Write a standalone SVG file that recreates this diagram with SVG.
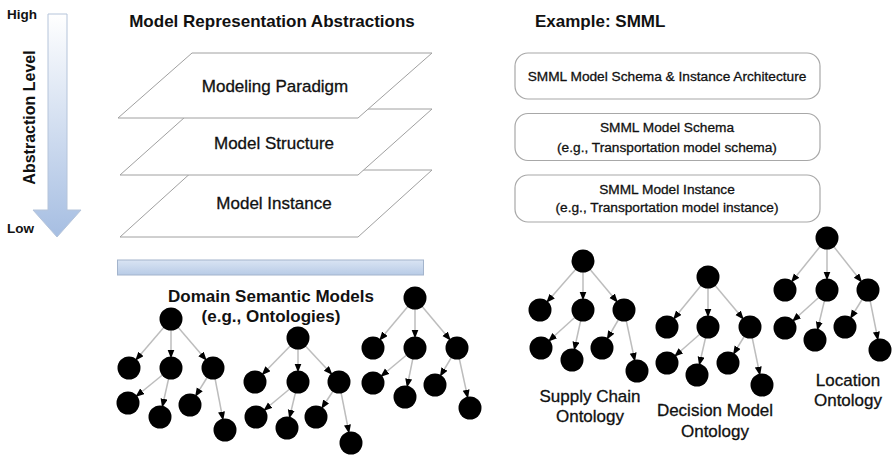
<svg xmlns="http://www.w3.org/2000/svg" width="892" height="459" viewBox="0 0 892 459">
<defs>
<linearGradient id="gArrow" x1="0" y1="0" x2="0" y2="1">
<stop offset="0" stop-color="#ffffff"/>
<stop offset="1" stop-color="#a6bee2"/>
</linearGradient>
<linearGradient id="gBar" x1="0" y1="0" x2="0" y2="1">
<stop offset="0" stop-color="#d9e4f3"/>
<stop offset="1" stop-color="#b8cbe6"/>
</linearGradient>
<marker id="ah" markerUnits="userSpaceOnUse" markerWidth="22" markerHeight="8" refX="18.5" refY="3.5" orient="auto">
<path d="M0,0 L9,3.5 L0,7 z" fill="#000"/>
</marker>
</defs>
<style>
text{font-family:"Liberation Sans",Arial,sans-serif;fill:#111}
.b{font-weight:bold}
.r{stroke:#111;stroke-width:0.3}
.t17{font-size:17px}
.t14{font-size:13.7px}
.lay{fill:#fff;stroke:#a0a0a0;stroke-width:1}
.box{fill:#fff;stroke:#a8a8a8;stroke-width:1.2}
.e{stroke:#bdbdbd;stroke-width:1.5;fill:none;marker-end:url(#ah)}
.n{fill:#000}
</style>

<g id="abstraction-arrow">
<path d="M48,14 L67,14 L67,210 L81,210 L57,237 L33,210 L48,210 z" fill="url(#gArrow)" stroke="#b5c4da" stroke-width="1"/>
<text x="7" y="19" class="b" font-size="13.5">High</text>
<text x="7" y="233" class="b" font-size="13.5">Low</text>
<text transform="translate(35,117.5) rotate(-90)" text-anchor="middle" class="b" font-size="16">Abstraction Level</text>
</g>

<text x="272" y="27" text-anchor="middle" class="b t17">Model Representation Abstractions</text>
<text x="535" y="27" class="b t17">Example: SMML</text>

<g id="layer-instance">
<path class="lay" d="M194,170 L432,170 L358,237 L120,237 z"/>
<text x="274" y="209" text-anchor="middle" class="t17 r">Model Instance</text>
</g>
<g id="layer-structure">
<path class="lay" d="M194,109 L432,109 L358,175 L120,175 z"/>
<text x="274" y="149" text-anchor="middle" class="t17 r">Model Structure</text>
</g>
<g id="layer-paradigm">
<path class="lay" d="M192,53 L432,53 L358,118 L118,118 z"/>
<text x="275" y="92" text-anchor="middle" class="t17 r">Modeling Paradigm</text>
</g>

<g id="smml-arch">
<rect class="box" x="515" y="53" width="305" height="46" rx="13"/>
<text x="667" y="81" text-anchor="middle" class="t14 r">SMML Model Schema &amp; Instance Architecture</text>
</g>
<g id="smml-schema">
<rect class="box" x="515" y="113.5" width="305" height="47" rx="13"/>
<text x="667" y="132" text-anchor="middle" class="t14 r">SMML Model Schema</text>
<text x="667" y="152" text-anchor="middle" class="t14 r">(e.g., Transportation model schema)</text>
</g>
<g id="smml-instance">
<rect class="box" x="515" y="175" width="305" height="47" rx="13"/>
<text x="667" y="194" text-anchor="middle" class="t14 r">SMML Model Instance</text>
<text x="667" y="212" text-anchor="middle" class="t14 r">(e.g., Transportation model instance)</text>
</g>

<g id="domain-bar">
<rect x="117.5" y="260" width="306" height="15" fill="url(#gBar)" stroke="#a3b4cc" stroke-width="1"/>
</g>
<g id="domain-label">
<text x="271" y="302" text-anchor="middle" class="b t17">Domain Semantic Models</text>
<text x="271" y="322" text-anchor="middle" class="b t17">(e.g., Ontologies)</text>
</g>

<g id="connectors">
<line class="e" x1="171" y1="319" x2="129" y2="368"/>
<line class="e" x1="171" y1="319" x2="171" y2="368"/>
<line class="e" x1="171" y1="319" x2="213" y2="368"/>
<line class="e" x1="171" y1="368" x2="128" y2="403"/>
<line class="e" x1="171" y1="368" x2="160" y2="417"/>
<line class="e" x1="213" y1="368" x2="190" y2="405"/>
<line class="e" x1="213" y1="368" x2="225" y2="430"/>
<line class="e" x1="298" y1="338" x2="255" y2="382"/>
<line class="e" x1="298" y1="338" x2="298" y2="382"/>
<line class="e" x1="298" y1="338" x2="339" y2="382"/>
<line class="e" x1="298" y1="382" x2="256" y2="417"/>
<line class="e" x1="298" y1="382" x2="287" y2="428"/>
<line class="e" x1="339" y1="382" x2="316" y2="417"/>
<line class="e" x1="339" y1="382" x2="351" y2="443"/>
<line class="e" x1="415" y1="298" x2="373" y2="348"/>
<line class="e" x1="415" y1="298" x2="415" y2="348"/>
<line class="e" x1="415" y1="298" x2="457" y2="348"/>
<line class="e" x1="415" y1="348" x2="373" y2="383"/>
<line class="e" x1="415" y1="348" x2="405" y2="397"/>
<line class="e" x1="457" y1="348" x2="435" y2="385"/>
<line class="e" x1="457" y1="348" x2="470" y2="408"/>
<line class="e" x1="583" y1="261" x2="540" y2="310"/>
<line class="e" x1="583" y1="261" x2="583" y2="310"/>
<line class="e" x1="583" y1="261" x2="624" y2="310"/>
<line class="e" x1="583" y1="310" x2="541" y2="348"/>
<line class="e" x1="583" y1="310" x2="572" y2="360"/>
<line class="e" x1="624" y1="310" x2="602" y2="348"/>
<line class="e" x1="624" y1="310" x2="637" y2="371"/>
<line class="e" x1="708" y1="277" x2="667" y2="327"/>
<line class="e" x1="708" y1="277" x2="708" y2="327"/>
<line class="e" x1="708" y1="277" x2="750" y2="327"/>
<line class="e" x1="708" y1="327" x2="667" y2="363"/>
<line class="e" x1="708" y1="327" x2="697" y2="375"/>
<line class="e" x1="750" y1="327" x2="728" y2="363"/>
<line class="e" x1="750" y1="327" x2="762" y2="385"/>
<line class="e" x1="827" y1="238" x2="785" y2="290"/>
<line class="e" x1="827" y1="238" x2="827" y2="290"/>
<line class="e" x1="827" y1="238" x2="868" y2="290"/>
<line class="e" x1="827" y1="290" x2="785" y2="328"/>
<line class="e" x1="827" y1="290" x2="815" y2="340"/>
<line class="e" x1="868" y1="290" x2="845" y2="327"/>
<line class="e" x1="868" y1="290" x2="880" y2="350"/>
</g>

<g id="tree1">
<g id="t1-root"><circle class="n" cx="171" cy="319" r="11.5"/></g>
<g id="t1-a"><circle class="n" cx="129" cy="368" r="11.5"/></g>
<g id="t1-b"><circle class="n" cx="171" cy="368" r="11.5"/></g>
<g id="t1-c"><circle class="n" cx="213" cy="368" r="11.5"/></g>
<g id="t1-d"><circle class="n" cx="128" cy="403" r="11.5"/></g>
<g id="t1-e"><circle class="n" cx="160" cy="417" r="11.5"/></g>
<g id="t1-f"><circle class="n" cx="190" cy="405" r="11.5"/></g>
<g id="t1-g"><circle class="n" cx="225" cy="430" r="11.5"/></g>
</g>
<g id="tree2">
<g id="t2-root"><circle class="n" cx="298" cy="338" r="11.5"/></g>
<g id="t2-a"><circle class="n" cx="255" cy="382" r="11.5"/></g>
<g id="t2-b"><circle class="n" cx="298" cy="382" r="11.5"/></g>
<g id="t2-c"><circle class="n" cx="339" cy="382" r="11.5"/></g>
<g id="t2-d"><circle class="n" cx="256" cy="417" r="11.5"/></g>
<g id="t2-e"><circle class="n" cx="287" cy="428" r="11.5"/></g>
<g id="t2-f"><circle class="n" cx="316" cy="417" r="11.5"/></g>
<g id="t2-g"><circle class="n" cx="351" cy="443" r="11.5"/></g>
</g>
<g id="tree3">
<g id="t3-root"><circle class="n" cx="415" cy="298" r="11.5"/></g>
<g id="t3-a"><circle class="n" cx="373" cy="348" r="11.5"/></g>
<g id="t3-b"><circle class="n" cx="415" cy="348" r="11.5"/></g>
<g id="t3-c"><circle class="n" cx="457" cy="348" r="11.5"/></g>
<g id="t3-d"><circle class="n" cx="373" cy="383" r="11.5"/></g>
<g id="t3-e"><circle class="n" cx="405" cy="397" r="11.5"/></g>
<g id="t3-f"><circle class="n" cx="435" cy="385" r="11.5"/></g>
<g id="t3-g"><circle class="n" cx="470" cy="408" r="11.5"/></g>
</g>
<g id="supply-chain-ontology">
<g id="t4-root"><circle class="n" cx="583" cy="261" r="11.5"/></g>
<g id="t4-a"><circle class="n" cx="540" cy="310" r="11.5"/></g>
<g id="t4-b"><circle class="n" cx="583" cy="310" r="11.5"/></g>
<g id="t4-c"><circle class="n" cx="624" cy="310" r="11.5"/></g>
<g id="t4-d"><circle class="n" cx="541" cy="348" r="11.5"/></g>
<g id="t4-e"><circle class="n" cx="572" cy="360" r="11.5"/></g>
<g id="t4-f"><circle class="n" cx="602" cy="348" r="11.5"/></g>
<g id="t4-g"><circle class="n" cx="637" cy="371" r="11.5"/></g>
<text x="590" y="402" text-anchor="middle" class="t17 r">Supply Chain</text>
<text x="590" y="422" text-anchor="middle" class="t17 r">Ontology</text>
</g>
<g id="decision-model-ontology">
<g id="t5-root"><circle class="n" cx="708" cy="277" r="11.5"/></g>
<g id="t5-a"><circle class="n" cx="667" cy="327" r="11.5"/></g>
<g id="t5-b"><circle class="n" cx="708" cy="327" r="11.5"/></g>
<g id="t5-c"><circle class="n" cx="750" cy="327" r="11.5"/></g>
<g id="t5-d"><circle class="n" cx="667" cy="363" r="11.5"/></g>
<g id="t5-e"><circle class="n" cx="697" cy="375" r="11.5"/></g>
<g id="t5-f"><circle class="n" cx="728" cy="363" r="11.5"/></g>
<g id="t5-g"><circle class="n" cx="762" cy="385" r="11.5"/></g>
<text x="715" y="416" text-anchor="middle" class="t17 r">Decision Model</text>
<text x="715" y="437" text-anchor="middle" class="t17 r">Ontology</text>
</g>
<g id="location-ontology">
<g id="t6-root"><circle class="n" cx="827" cy="238" r="11.5"/></g>
<g id="t6-a"><circle class="n" cx="785" cy="290" r="11.5"/></g>
<g id="t6-b"><circle class="n" cx="827" cy="290" r="11.5"/></g>
<g id="t6-c"><circle class="n" cx="868" cy="290" r="11.5"/></g>
<g id="t6-d"><circle class="n" cx="785" cy="328" r="11.5"/></g>
<g id="t6-e"><circle class="n" cx="815" cy="340" r="11.5"/></g>
<g id="t6-f"><circle class="n" cx="845" cy="327" r="11.5"/></g>
<g id="t6-g"><circle class="n" cx="880" cy="350" r="11.5"/></g>
<text x="848" y="386" text-anchor="middle" class="t17 r">Location</text>
<text x="848" y="406" text-anchor="middle" class="t17 r">Ontology</text>
</g>
</svg>
